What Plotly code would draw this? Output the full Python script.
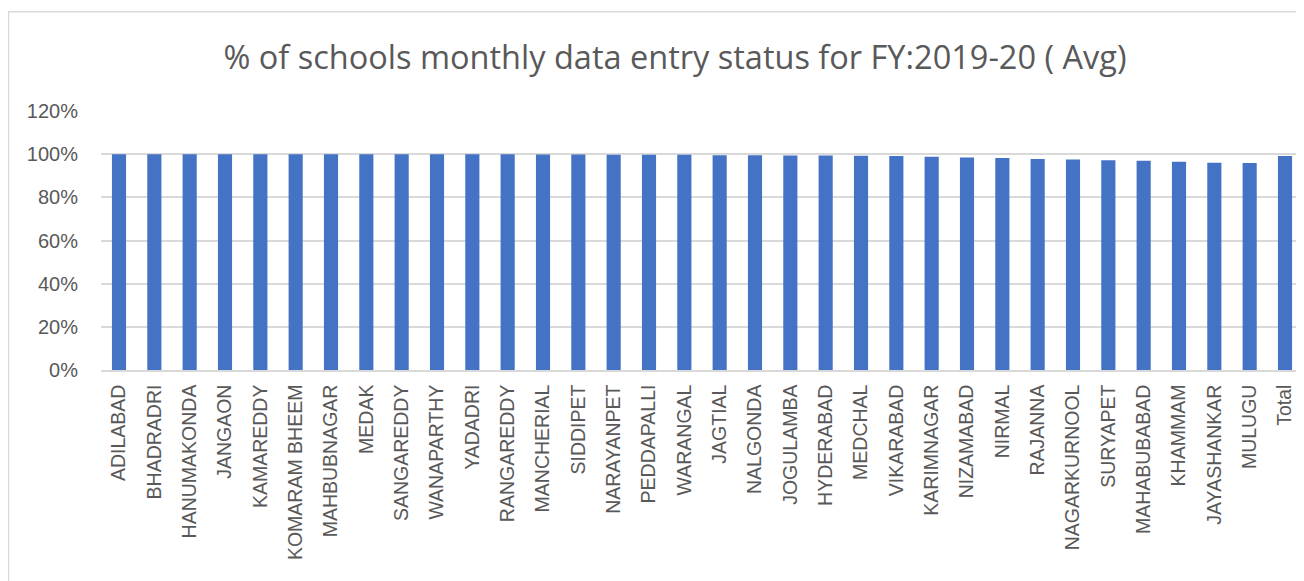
import plotly.graph_objects as go

districts = ["ADILABAD", "BHADRADRI", "HANUMAKONDA", "JANGAON", "KAMAREDDY",
             "KOMARAM BHEEM", "MAHBUBNAGAR", "MEDAK", "SANGAREDDY", "WANAPARTHY",
             "YADADRI", "RANGAREDDY", "MANCHERIAL", "SIDDIPET", "NARAYANPET",
             "PEDDAPALLI", "WARANGAL", "JAGTIAL", "NALGONDA", "JOGULAMBA",
             "HYDERABAD", "MEDCHAL", "VIKARABAD", "KARIMNAGAR", "NIZAMABAD",
             "NIRMAL", "RAJANNA", "NAGARKURNOOL", "SURYAPET", "MAHABUBABAD",
             "KHAMMAM", "JAYASHANKAR", "MULUGU", "Total"]
pct_entry = [100.0, 100.0, 100.0, 100.0, 100.0,
             100.0, 100.0, 100.0, 100.0, 100.0,
             100.0, 99.95, 99.85, 99.85, 99.7,
             99.7, 99.7, 99.55, 99.55, 99.4,
             99.4, 99.25, 99.1, 98.8, 98.5,
             98.2, 97.8, 97.5, 97.2, 96.9,
             96.5, 96.0, 95.9, 99.1]
y_ticks = [0, 20, 40, 60, 80, 100, 120]
y_tick_labels = ["0%", "20%", "40%", "60%", "80%", "100%", "120%"]

# page has an 8px body margin; figure coordinates = page - 8
W, H = 1288, 573
L, R, T, B = 93, 0, 103, 211
pw, ph = W - L - R, H - T - B

# category axis placement: first bar centre / last bar centre (figure px)
first_c, last_c = 111.0, 1277.0
n_cat = len(districts)
step = (last_c - first_c) / (n_cat - 1)
r0 = -(first_c - L) / step
r1 = r0 + pw / step

def px_x(x):
    return (x - L) / pw

def px_y(y):
    return (H - B - y) / ph

grey = "#595959"
tick_font = "Liberation Sans, Arial, sans-serif"
fig = go.Figure(go.Bar(x=districts, y=pct_entry, marker_color="#4472C4",
                       marker_line_width=0, width=0.4))

fig.update_layout(
    width=W, height=H,
    margin=dict(l=L, r=R, t=T, b=B, autoexpand=False),
    paper_bgcolor="white", plot_bgcolor="white",
    font=dict(family=tick_font, color=grey),
    title=dict(text="% of schools monthly data entry status for FY:2019-20 ( Avg)",
               x=667 / W, xanchor="center", xref="container",
               y=1 - 50 / H, yanchor="middle", yref="container",
               font=dict(size=32.5, color=grey, family="Open Sans")),
    showlegend=False,
)
fig.update_xaxes(range=[r0, r1], tickangle=-90,
                 tickfont=dict(size=19.5, color=grey, family=tick_font),
                 showgrid=False,
                 showline=True, linecolor="#d9d9d9", linewidth=1.5,
                 ticks="", ticklabelstandoff=5)
fig.update_yaxes(range=[0, 120], tickvals=y_ticks, ticktext=y_tick_labels,
                 tickfont=dict(size=20, color=grey, family=tick_font),
                 showgrid=True,
                 gridcolor="#d9d9d9", gridwidth=1.5, zeroline=False,
                 showline=False, ticks="", ticklabelstandoff=22)

fig.add_shape(type="rect", xref="paper", yref="paper",
              x0=px_x(0.5), x1=px_x(1320), y0=px_y(600), y1=px_y(3.7),
              line=dict(color="#d9d9d9", width=1.5), fillcolor="rgba(0,0,0,0)",
              layer="below")

fig.write_html("out.html")
